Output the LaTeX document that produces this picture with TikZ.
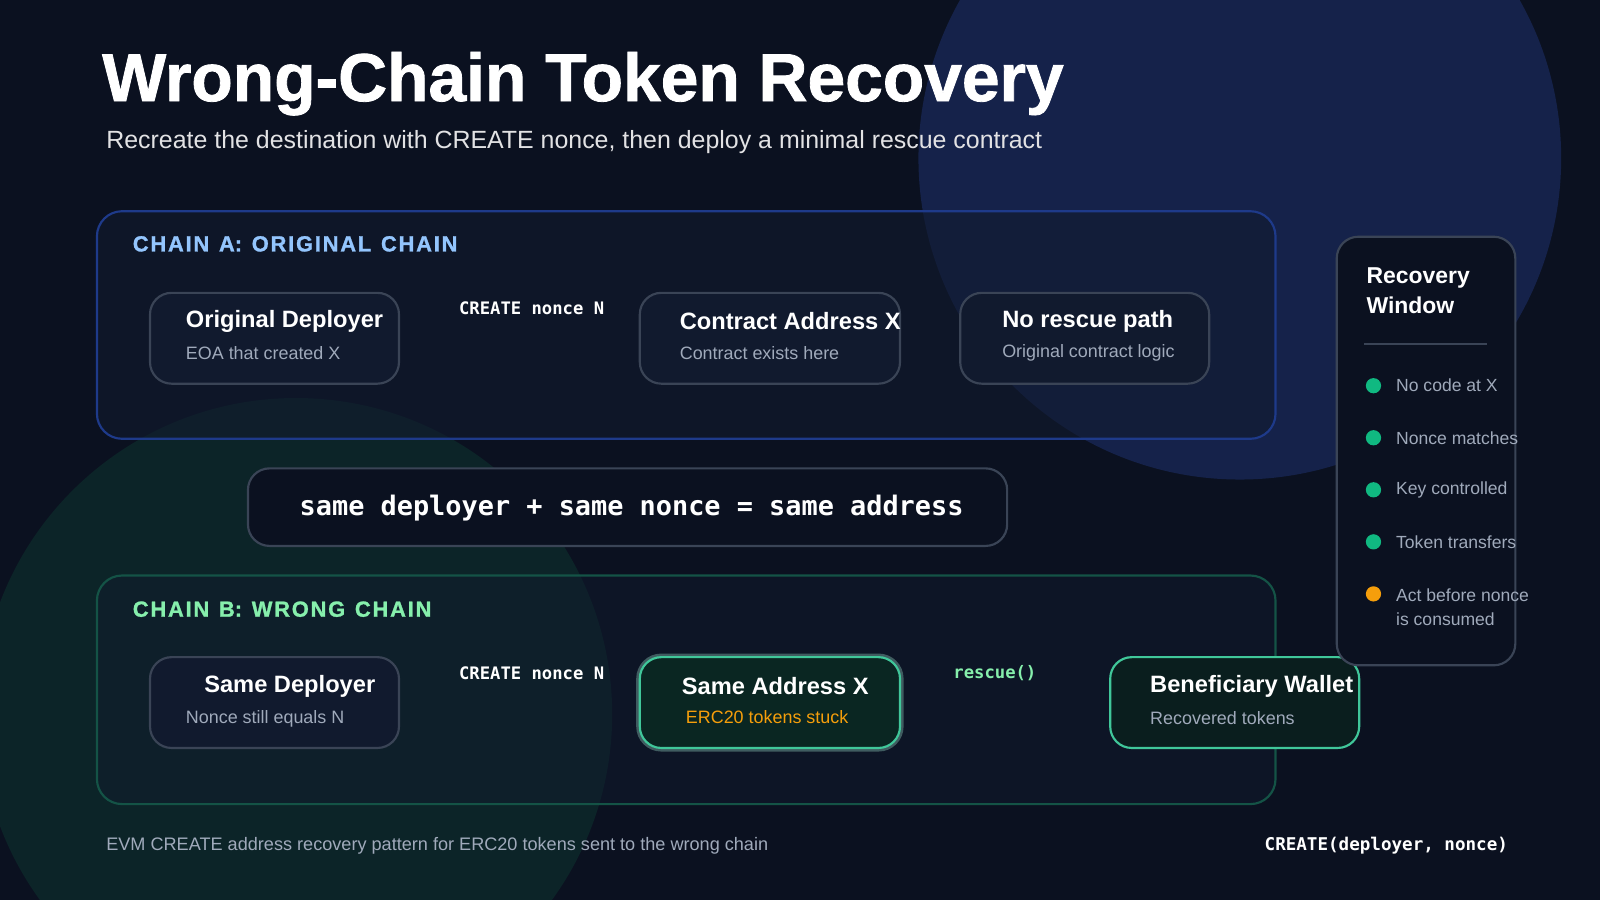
\documentclass[tikz,border=0pt]{standalone}
\usepackage{fontspec}
\setmainfont{Liberation Sans}
\setmonofont{DejaVu Sans Mono}
\newfontfamily\heavyfont[FakeBold=1.2]{Liberation Sans Bold}
\begin{document}
\begin{tikzpicture}[x=0.02cm,y=-0.02cm,
 card/.style={draw=#1,line width=1.2pt,rounded corners=12pt,fill=cardbg},
 hd/.style={anchor=west,text=white,font=\fontsize{13.2}{15}\selectfont\bfseries},
 sb/.style={anchor=west,text=subgrey,font=\fontsize{10}{12}\selectfont},
 lbl/.style={anchor=center,text=white,font=\fontsize{9.6}{11}\selectfont\ttfamily\bfseries},
 itm/.style={anchor=west,text=subgrey,font=\fontsize{9.8}{11}\selectfont},
 dot/.style={circle,inner sep=0pt,minimum size=8.5pt,fill=#1}]
\definecolor{bg}{HTML}{0B1120}
\definecolor{cardbg}{HTML}{111A2E}
\definecolor{subgrey}{HTML}{A0AABB}
\definecolor{cardline}{HTML}{3A4456}
\definecolor{gdot}{HTML}{10B981}
\definecolor{odot}{HTML}{F59E0B}
\fill[bg] (0,0) rectangle (1568,882);
\useasboundingbox (0,0) rectangle (1568,882);
\begin{scope}
\clip (0,0) rectangle (1568,882);
\fill[color={rgb,255:red,21;green,34;blue,74}] (1215,155) circle[radius=6.3cm];
\fill[color={rgb,255:red,12;green,36;blue,40}] (290,700) circle[radius=6.2cm];
\end{scope}
\node[anchor=west,text=white,font=\fontsize{37.8}{42}\heavyfont] (title) at (94,82) {Wrong-Chain Token Recovery};
\node[anchor=west,text=white!88!bg,font=\fontsize{13.9}{16}\selectfont] (sub) at (98,139) {Recreate the destination with CREATE nonce, then deploy a minimal rescue contract};
% chain A
\draw[draw={rgb,255:red,30;green,58;blue,138},line width=1.2pt,rounded corners=14pt,fill=cardbg,fill opacity=0.6] (95,207) rectangle (1250,430);
\node[anchor=west,text={rgb,255:red,147;green,197;blue,253},font=\fontsize{12.2}{14}\heavyfont] (ta) at (124,239) {C\kern1pt H\kern1pt A\kern1pt I\kern1pt N\ \,A:\ \,O\kern1pt R\kern1pt I\kern1pt G\kern1pt I\kern1pt N\kern1pt A\kern1pt L\ \,C\kern1pt H\kern1pt A\kern1pt I\kern1pt N};
\draw[card=cardline] (147,287) rectangle (391,376);
\node[hd] (a1) at (176,315) {Original Deployer};
\node[sb] (a1s) at (176,346) {EOA that created X};
\node[lbl] (la) at (521,302) {CREATE nonce N};
\draw[card=cardline] (627,287) rectangle (882,376);
\node[hd] (a2) at (660,315) {Contract Address X};
\node[sb] (a2s) at (660,346) {Contract exists here};
\draw[card=cardline] (941,287) rectangle (1185,376);
\node[hd] (a3) at (976,315) {No rescue path};
\node[sb] (a3s) at (976,346) {Original contract logic};
% equation
\draw[card=cardline,fill=bg] (243,459) rectangle (987,535);
\node[text=white,font=\fontsize{15}{17}\selectfont\ttfamily\bfseries] (eq) at (619,498) {same deployer + same nonce = same address};
% chain B
\draw[draw={rgb,255:red,20;green,83;blue,70},line width=1.2pt,rounded corners=14pt,fill=cardbg,fill opacity=0.45] (95,564) rectangle (1250,788);
\node[anchor=west,text={rgb,255:red,134;green,239;blue,172},font=\fontsize{12.2}{14}\heavyfont] (tb) at (124,597) {C\kern1pt H\kern1pt A\kern1pt I\kern1pt N\ \,B:\ \,W\kern1pt R\kern1pt O\kern1pt N\kern1pt G\ \,C\kern1pt H\kern1pt A\kern1pt I\kern1pt N};
\draw[card=cardline] (147,644) rectangle (391,733);
\node[hd] (b1) at (194,673) {Same Deployer};
\node[sb] (b1s) at (176,704) {Nonce still equals N};
\node[lbl] (lb) at (521,660) {CREATE nonce N};
\draw[draw=gdot!40,line width=4pt,opacity=0.35,rounded corners=12pt] (627,644) rectangle (882,733);
\draw[card=gdot!80!white,fill={rgb,255:red,10;green,38;blue,34}] (627,644) rectangle (882,733);
\node[hd] (b2) at (662,672) {Same Address X};
\node[sb,text=odot] (b2s) at (666,703) {ERC20 tokens stuck};
\node[lbl,text={rgb,255:red,134;green,239;blue,172}] (lr) at (975,660) {rescue()};
\draw[card=gdot!80!white,fill={rgb,255:red,10;green,30;blue,30}] (1088,644) rectangle (1332,733);
\node[hd] (b3) at (1121,673) {Beneficiary Wallet};
\node[sb] (b3s) at (1121,704) {Recovered tokens};
% recovery window
\draw[card=cardline,fill=bg] (1310,232) rectangle (1485,652);
\node[anchor=west,align=left,text=white,font=\fontsize{12.8}{16.5}\selectfont\bfseries] (rw) at (1333,285) {Recovery\\Window};
\draw[cardline,line width=0.8pt] (1337,337) -- (1457,337);
\node[dot=gdot] (d1) at (1346,378) {}; \node[itm] at (1362,378) {No code at X};
\node[dot=gdot] (d2) at (1346,429) {}; \node[itm] at (1362,429) {Nonce matches};
\node[dot=gdot] (d3) at (1346,480) {}; \node[itm] at (1362,480) {Key controlled};
\node[dot=gdot] (d4) at (1346,531) {}; \node[itm] at (1362,531) {Token transfers};
\node[dot=odot] (d5) at (1346,582) {}; \node[itm,align=left] at (1362,595) {Act before nonce\\[2pt]is consumed};
% footer
\node[anchor=west,text=subgrey,font=\fontsize{10.1}{12}\selectfont] (f1) at (98,829) {EVM CREATE address recovery pattern for ERC20 tokens sent to the wrong chain};
\node[anchor=east,text=white,font=\fontsize{9.8}{11}\selectfont\ttfamily\bfseries] (f2) at (1484,829) {CREATE(deployer, nonce)};
\end{tikzpicture}
\end{document}
